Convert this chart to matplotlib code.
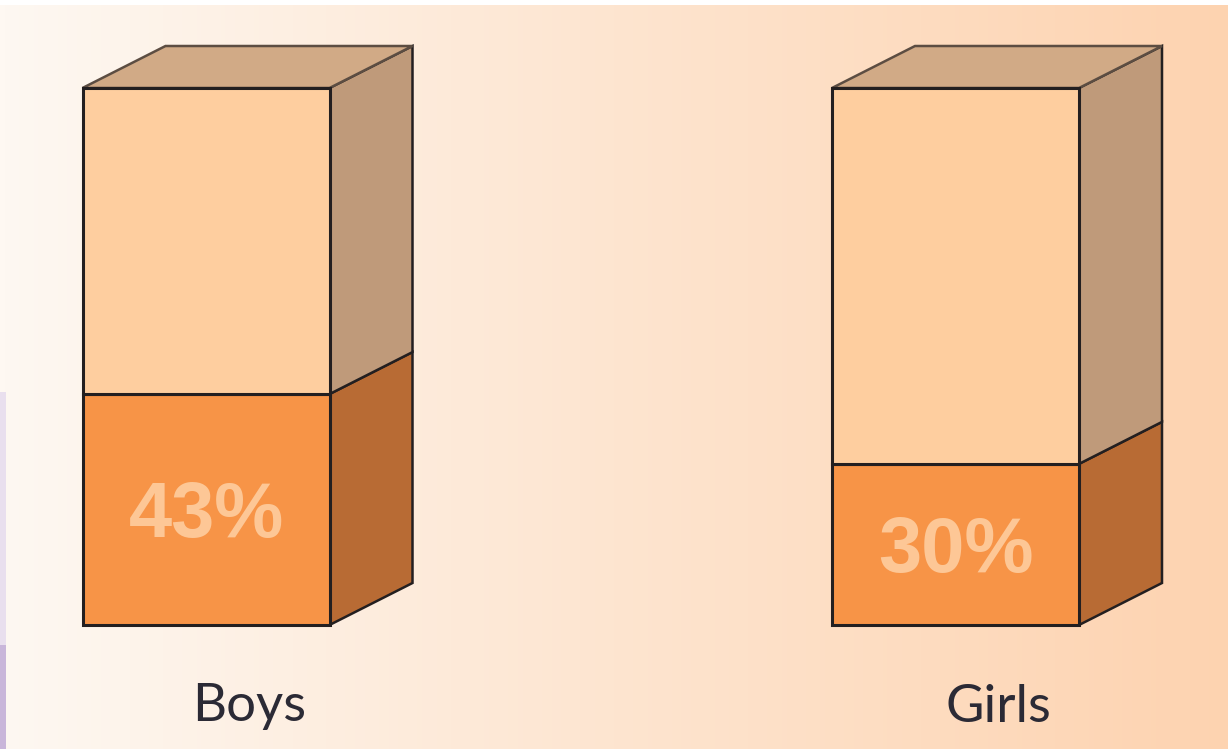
import numpy as np
import matplotlib
matplotlib.use("Agg")
import matplotlib.pyplot as plt
from matplotlib.patches import Polygon
from matplotlib.colors import LinearSegmentedColormap

# ---- data ----
categories = ["Boys", "Girls"]
values = [43, 30]          # percent
labels = ["43%", "30%"]

# ---- style ----
W, H = 1228, 749
fig = plt.figure(figsize=(W / 100, H / 100), dpi=100)
ax = fig.add_axes([0, 0, 1, 1])

px_per_pct = 5.37
base_px = 625
ax.set_xlim(0, W)
ax.set_ylim(-(H - base_px) / px_per_pct, base_px / px_per_pct)
ax.axis("off")

# background gradient
cmap = LinearSegmentedColormap.from_list("bg", ["#FEF8F2", "#FDE5D0", "#FDD3B0"])
grad = np.linspace(0, 1, 256).reshape(1, -1)
y0, y1 = ax.get_ylim()
ax.imshow(grad, cmap=cmap, aspect="auto", extent=[0, W, y0, y1 - 5 / px_per_pct], zorder=0)
ax.axhspan(y1 - 5 / px_per_pct, y1, color="white", zorder=0.5, lw=0)
# left purple strip
ax.fill_between([0, 6], y0 + 104 / px_per_pct, (base_px - 392) / px_per_pct, color="#E9DFEE", lw=0, zorder=0.6)
ax.fill_between([0, 6], y0, y0 + 104 / px_per_pct, color="#C9B6DA", lw=0, zorder=0.6)

centers = [206, 955.5]
width = 247
dx = 83
dy = 42 / px_per_pct
edge = "#231F20"

front_light = "#FECE9F"
front_dark = "#F79447"
side_light = "#BF9A7A"
side_dark = "#B86B34"
top_col = "#D1AA86"

for cx, v, cat, lab in zip(centers, values, categories, labels):
    x0 = cx - width / 2
    x1 = cx + width / 2
    # front faces
    ax.add_patch(Polygon([(x0, 0), (x1, 0), (x1, v), (x0, v)], closed=True,
                         fc=front_dark, ec=edge, lw=2.2, zorder=3))
    ax.add_patch(Polygon([(x0, v), (x1, v), (x1, 100), (x0, 100)], closed=True,
                         fc=front_light, ec=edge, lw=2.2, zorder=3))
    # side faces
    ax.add_patch(Polygon([(x1, 0), (x1 + dx, dy), (x1 + dx, v + dy), (x1, v)], closed=True,
                         fc=side_dark, ec=edge, lw=1.8, zorder=2))
    ax.add_patch(Polygon([(x1, v), (x1 + dx, v + dy), (x1 + dx, 100 + dy), (x1, 100)], closed=True,
                         fc=side_light, ec=edge, lw=1.8, zorder=2))
    # top face
    ax.add_patch(Polygon([(x0, 100), (x1, 100), (x1 + dx, 100 + dy), (x0 + dx, 100 + dy)], closed=True,
                         fc=top_col, ec="#5C4D42", lw=1.8, zorder=2))
    # value label
    ax.text(cx, v / 2 - 1.3, lab, ha="center", va="center", fontsize=56,
            fontweight="bold", family="Liberation Sans", color="#FDC796", zorder=4)
    # category label
    ax.text(cx + 43, -(707 - base_px) / px_per_pct, cat, ha="center", va="center",
            fontsize=38, family="Lato", color="#2B2A35", zorder=4)

fig.savefig("out.png", dpi=100)
